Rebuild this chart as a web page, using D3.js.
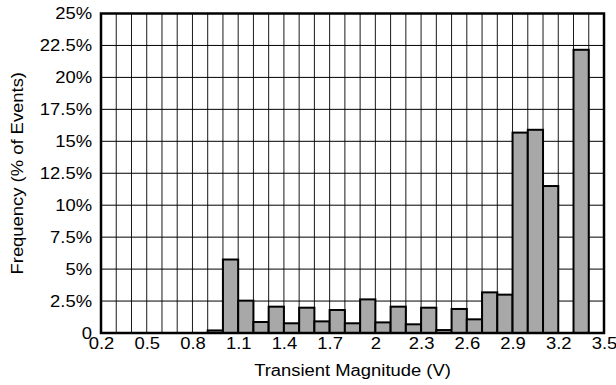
<!DOCTYPE html>
<html lang="en">
<head>
  <meta charset="UTF-8">
  <title>Transient Magnitude Histogram</title>
  <script src="https://d3js.org/d3.v7.min.js"></script>
  <style>
    body { margin: 0; background: #fff; }
    text { font-family: "Liberation Sans", Arial, sans-serif; fill: #000; }
  </style>
</head>
<body>
  <script>
    // bin start (V) and frequency (% of events), each bin 0.1 V wide
    const binStarts = [0.2, 0.3, 0.4, 0.5, 0.6, 0.7, 0.8, 0.9, 1.0, 1.1, 1.2, 1.3, 1.4, 1.5, 1.6, 1.7,
      1.8, 1.9, 2.0, 2.1, 2.2, 2.3, 2.4, 2.5, 2.6, 2.7, 2.8, 2.9, 3.0, 3.1, 3.2, 3.3, 3.4];
    const frequencies = [0, 0, 0, 0, 0, 0, 0, 0.2, 5.75, 2.53, 0.86, 2.06, 0.76, 1.98, 0.91, 1.8,
      0.76, 2.63, 0.83, 2.06, 0.68, 1.98, 0.23, 1.88, 1.07, 3.18, 3.0, 15.68, 15.9, 11.5, 0, 22.16, 0];
    const xTicks = [0.2, 0.5, 0.8, 1.1, 1.4, 1.7, 2.0, 2.3, 2.6, 2.9, 3.2, 3.5];
    const yTicks = [0, 2.5, 5, 7.5, 10, 12.5, 15, 17.5, 20, 22.5, 25];
    const binWidth = 0.1;

    const width = 616, height = 385;
    const margin = { top: 13.5, right: 12, bottom: 52, left: 101 };
    const fontSize = "16px";
    const stretch = 1.15; // source text is drawn a bit wide

    const svg = d3.select("body").append("svg")
      .attr("width", width)
      .attr("height", height);

    const x = d3.scaleLinear().domain([0.2, 3.5]).range([margin.left, width - margin.right]);
    const y = d3.scaleLinear().domain([0, 25]).range([height - margin.bottom, margin.top]);

    // widen text glyphs horizontally
    function widen(sel) {
      sel.each(function () {
        const len = this.getComputedTextLength();
        d3.select(this).attr("textLength", len * stretch).attr("lengthAdjust", "spacingAndGlyphs");
      });
    }

    // grid
    const grid = svg.append("g");
    grid.selectAll(".vgrid")
      .data(d3.range(3, 35).map(d => d / 10))
      .enter().append("line")
      .attr("x1", d => x(d)).attr("x2", d => x(d))
      .attr("y1", y(0)).attr("y2", y(25))
      .attr("stroke", "#1a1a1a").attr("stroke-width", 1);
    grid.selectAll(".hgrid")
      .data(yTicks.slice(1, -1))
      .enter().append("line")
      .attr("x1", x(0.2)).attr("x2", x(3.5))
      .attr("y1", d => y(d)).attr("y2", d => y(d))
      .attr("stroke", "#000").attr("stroke-width", 1);

    // bars
    svg.append("g").selectAll("rect")
      .data(binStarts.map((b, i) => ({ b: b, v: frequencies[i] })).filter(d => d.v > 0))
      .enter().append("rect")
      .attr("x", d => x(d.b))
      .attr("width", d => x(d.b + binWidth) - x(d.b))
      .attr("y", d => y(d.v))
      .attr("height", d => y(0) - y(d.v))
      .attr("fill", "#a8a8a8")
      .attr("stroke", "#000")
      .attr("stroke-width", 2);

    // frame
    svg.append("rect")
      .attr("x", x(0.2)).attr("y", y(25))
      .attr("width", x(3.5) - x(0.2)).attr("height", y(0) - y(25))
      .attr("fill", "none").attr("stroke", "#000").attr("stroke-width", 2.5);

    // axes
    const xAxis = d3.axisBottom(x).tickValues(xTicks).tickSize(0).tickPadding(5)
      .tickFormat(d => d3.format("")(+d.toFixed(1)));
    svg.append("g")
      .attr("transform", `translate(0,${y(0)})`)
      .call(xAxis)
      .attr("font-size", fontSize).attr("font-family", null)
      .call(g => g.select(".domain").remove())
      .selectAll("text").call(widen);

    const yAxis = d3.axisLeft(y).tickValues(yTicks).tickSize(0).tickPadding(9)
      .tickFormat(d => d === 0 ? "0" : d + "%");
    svg.append("g")
      .attr("transform", `translate(${x(0.2)},0)`)
      .call(yAxis)
      .attr("font-size", fontSize).attr("font-family", null)
      .call(g => g.select(".domain").remove())
      .selectAll("text").call(widen);

    svg.append("text")
      .attr("x", (x(0.2) + x(3.5)) / 2)
      .attr("y", 376)
      .attr("text-anchor", "middle")
      .style("font-size", fontSize)
      .text("Transient Magnitude (V)")
      .call(widen);

    svg.append("text")
      .attr("transform", `translate(23,${(y(0) + y(25)) / 2}) rotate(-90)`)
      .attr("text-anchor", "middle")
      .style("font-size", fontSize)
      .text("Frequency (% of Events)")
      .call(widen);
  </script>
</body>
</html>
